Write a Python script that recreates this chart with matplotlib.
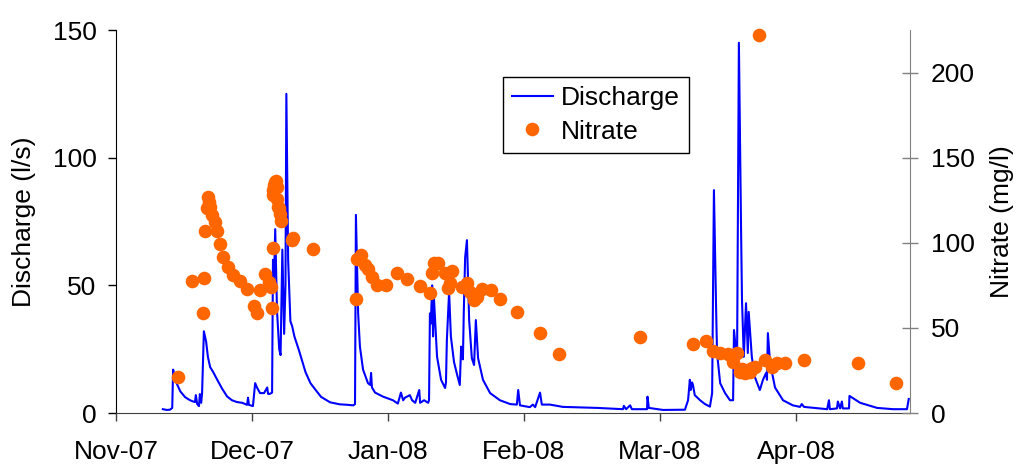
import matplotlib
matplotlib.use('Agg')
import matplotlib.pyplot as plt

plt.rcParams['font.family'] = ['Liberation Sans', 'DejaVu Sans']

# days after 1 Nov 2007
q_day = [10.5, 11.4, 12.1, 12.6, 12.8, 13.2, 13.5, 14.4, 15.5, 16.6, 17.3, 17.7, 17.9, 18.2, 18.6, 18.8,
         19.1, 19.3, 19.7, 20.2, 20.6, 21.1, 21.8, 22.7, 23.8, 24.9, 26.0, 27.1, 28.3, 29.4, 29.6, 29.8,
         30.7, 31.0, 31.2, 31.6, 32.3, 33.2, 33.9, 34.1, 34.5, 35.0, 35.2, 35.4, 35.7, 36.1, 36.6, 36.9,
         37.3, 37.7, 38.0, 38.2, 38.6, 39.1, 39.5, 40.0, 41.0, 42.5, 43.6, 45.0, 46.0, 48.0, 50.2, 52.0,
         53.2, 53.6, 53.8, 54.3, 54.7, 55.4, 56.5, 57.0, 57.2, 57.4, 58.1, 59.9, 62.1, 63.2, 63.9, 64.4,
         64.8, 65.9, 66.4, 67.1, 68.0, 68.2, 69.1, 70.0, 70.2, 70.4, 70.6, 70.9, 71.1, 71.3, 72.0, 72.9,
         73.8, 74.0, 74.2, 74.7, 75.1, 75.8, 76.5, 77.1, 77.4, 77.6, 77.8, 78.0, 78.3, 78.7, 79.2, 79.8,
         80.3, 80.7, 81.2, 82.3, 83.9, 86.1, 88.4, 89.9, 90.2, 90.6, 92.8, 93.5, 94.0, 95.1, 95.5, 97.3,
         100.2, 107.9, 113.7, 113.9, 114.4, 115.3, 115.7, 119.1, 119.2, 119.5, 122.7, 127.6, 128.3, 128.7,
         128.9, 129.2, 129.4, 129.8, 131.0, 132.1, 133.2, 133.7, 134.1, 134.6, 134.8, 135.5, 136.6, 137.7,
         138.4, 138.6, 139.1, 139.3, 139.7, 140.2, 140.4, 140.8, 141.3, 141.7, 141.9, 142.6, 143.3, 144.4,
         145.1, 145.8, 146.0, 146.2, 146.7, 147.8, 149.6, 151.8, 153.4, 153.8, 154.3, 159.5, 159.9, 160.1,
         161.7, 161.9, 162.4, 162.8, 163.0, 164.4, 164.5, 166.9, 170.7, 174.3, 177.4, 177.8]
q_val = [1.5, 1.2, 1.3, 2.0, 17, 14, 12, 8.5, 6.2, 5.0, 4.5, 4.3, 7, 3.5, 2.7, 7.4,
         4, 8, 32, 28, 22, 18, 16, 13, 9.5, 6.5, 5.0, 4.3, 4.0, 3.2, 6, 3.2,
         2.7, 8, 11.7, 10, 7.8, 7.8, 10, 7.5, 7.5, 8, 60, 50, 72, 40, 25, 22.7,
         64, 31, 50, 125, 60, 36, 34, 30, 24.7, 16, 11.7, 8.5, 6.3, 4.2, 3.4, 3.2,
         3.0, 3.5, 77.6, 39, 26, 17, 11.7, 11, 15.7, 10, 8, 6.4, 5, 3.7, 8, 5,
         6, 7, 5, 4, 9, 4, 5, 4, 5, 39, 35, 50, 30, 45, 22, 13,
         9.8, 12, 28.6, 47.4, 30, 20, 15, 11, 26, 22, 21, 40, 61, 67.7, 36.4, 21.5,
         18.8, 36.4, 21.5, 13, 7.8, 5, 3.5, 3.3, 9, 3, 2.3, 3.3, 2.3, 8, 3.3, 3.3,
         2.4, 2.0, 1.5, 2.8, 1.5, 3, 1.5, 1.5, 6.4, 2, 1.2, 1.3, 5, 13,
         9, 12, 11, 7, 5, 3.5, 2.5, 7.8, 87.3, 40, 23.5, 11.7, 7.8, 5,
         5, 32.5, 23.5, 23.5, 145, 70, 44, 22, 43, 23.5, 39.6, 22, 14, 9,
         13, 15.7, 13, 31.3, 19.6, 10, 5, 3, 2.4, 3.5, 2.4, 1.5, 5, 1.5,
         1.8, 4.5, 1.8, 4.5, 1.8, 1.8, 6.7, 4, 2, 1.5, 1.5, 5.5]

no3_day = [14.0, 17.0, 19.6, 19.7, 20.0, 20.3, 20.7, 20.8, 21.1, 21.5, 22.2, 22.7, 23.3, 23.9, 25.2,
           26.3, 27.8, 29.4, 30.9, 31.6, 32.3, 33.4, 34.2, 34.8, 34.9, 35.1, 35.2, 35.3, 35.5, 35.7,
           35.8, 36.0, 36.1, 36.4, 36.6, 36.8, 37.1, 39.4, 39.8, 44.2, 53.8, 54.0, 54.9, 55.8, 56.6,
           57.3, 58.5, 60.6, 63.0, 65.3, 68.2, 70.4, 70.8, 71.3, 72.3, 73.8, 74.5, 74.9, 75.3, 77.5,
           78.8, 79.4, 80.3, 80.9, 82.0, 84.0, 86.1, 90.0, 95.1, 99.4, 117.5, 129.5, 132.3, 134.0,
           135.5, 137.3, 138.4, 139.2, 139.9, 140.5, 141.0, 141.6, 142.2, 142.7, 143.3, 144.3, 145.5,
           147.1, 148.2, 150.0, 154.3, 166.5, 174.9]
no3_val = [21.3, 77.7, 58.9, 79.1, 106.9, 120.3, 127.1, 124, 121, 116.5, 112.5, 107.1, 99.3, 91.4, 85.8,
           81.1, 77.6, 73.1, 62.8, 58.6, 72.1, 81.9, 77.1, 74.3, 61.5, 96.8, 128, 131, 134, 136,
           136.5, 133, 125.5, 121, 120.3, 117, 112.6, 101.5, 102.8, 96.2, 67, 90.3, 92.8, 87, 84.4,
           80.1, 75.2, 75.2, 82.1, 78.7, 74.8, 70.3, 82.4, 88, 88, 82.4, 73.3, 76.2, 83.4, 74.2,
           76.2, 71.3, 66.4, 68.3, 72.9, 72.3, 66.8, 59.3, 47.2, 34.5, 44.5, 40.5, 42.5, 36.4,
           35.1, 34.5, 30.1, 35.4, 24.3, 26, 23.3, 25, 24.3, 26.5, 27.2, 222.3, 31.1,
           27.2, 29.2, 29.6, 31.1, 29.2, 17.8]

month_labels = ['Nov-07', 'Dec-07', 'Jan-08', 'Feb-08', 'Mar-08', 'Apr-08']

fig = plt.figure(figsize=(10.18, 4.66), dpi=100)
ax = fig.add_axes([0.114, 0.1137, 0.78, 0.8219])
ax2 = ax.twinx()

line, = ax.plot(q_day, q_val, color='#0000FF', lw=1.5, label='Discharge')
dots, = ax2.plot(no3_day, no3_val, 'o', color='#FF6600', ms=9.8, mec='none',
                 label='Nitrate', clip_on=False)

ax.set_xlim(0, 178.1)
ax.set_ylim(0, 150)
ax2.set_ylim(0, 225)
ax.set_xticks([30.5 * i for i in range(len(month_labels))])
ax.set_xticklabels(month_labels)
ax.set_yticks([0, 50, 100, 150])
ax2.set_yticks([0, 50, 100, 150, 200])

for s in ['top', 'right']:
    ax.spines[s].set_visible(False)
for s in ['top', 'left', 'bottom']:
    ax2.spines[s].set_visible(False)
ax.spines['left'].set_color('black')
ax.spines['bottom'].set_color('#404040')
ax2.spines['right'].set_color('#808080')

ax.tick_params(axis='y', direction='out', length=6, width=1, pad=8, labelsize=19)
ax.tick_params(axis='x', direction='out', length=6, width=1, pad=13.5, labelsize=19, color='#404040')
ax2.tick_params(axis='y', direction='inout', length=11.5, width=1, pad=9.3, labelsize=19, color='#808080')

ax.set_ylabel('Discharge (l/s)', fontsize=19)
ax.yaxis.set_label_coords(-0.1008, 0.5)
ax2.set_ylabel('Nitrate (mg/l)', fontsize=19)
ax2.yaxis.set_label_coords(1.1008, 0.5)

leg = ax2.legend([line, dots], ['Discharge', 'Nitrate'], loc='upper left',
                 bbox_to_anchor=(0.487, 0.877), borderaxespad=0, fontsize=19,
                 frameon=True, fancybox=False, edgecolor='black', framealpha=1,
                 handlelength=1.55, handletextpad=0.3, borderpad=0.35, labelspacing=0.35)
leg.get_frame().set_linewidth(1)

fig.savefig('out.png', dpi=100)
